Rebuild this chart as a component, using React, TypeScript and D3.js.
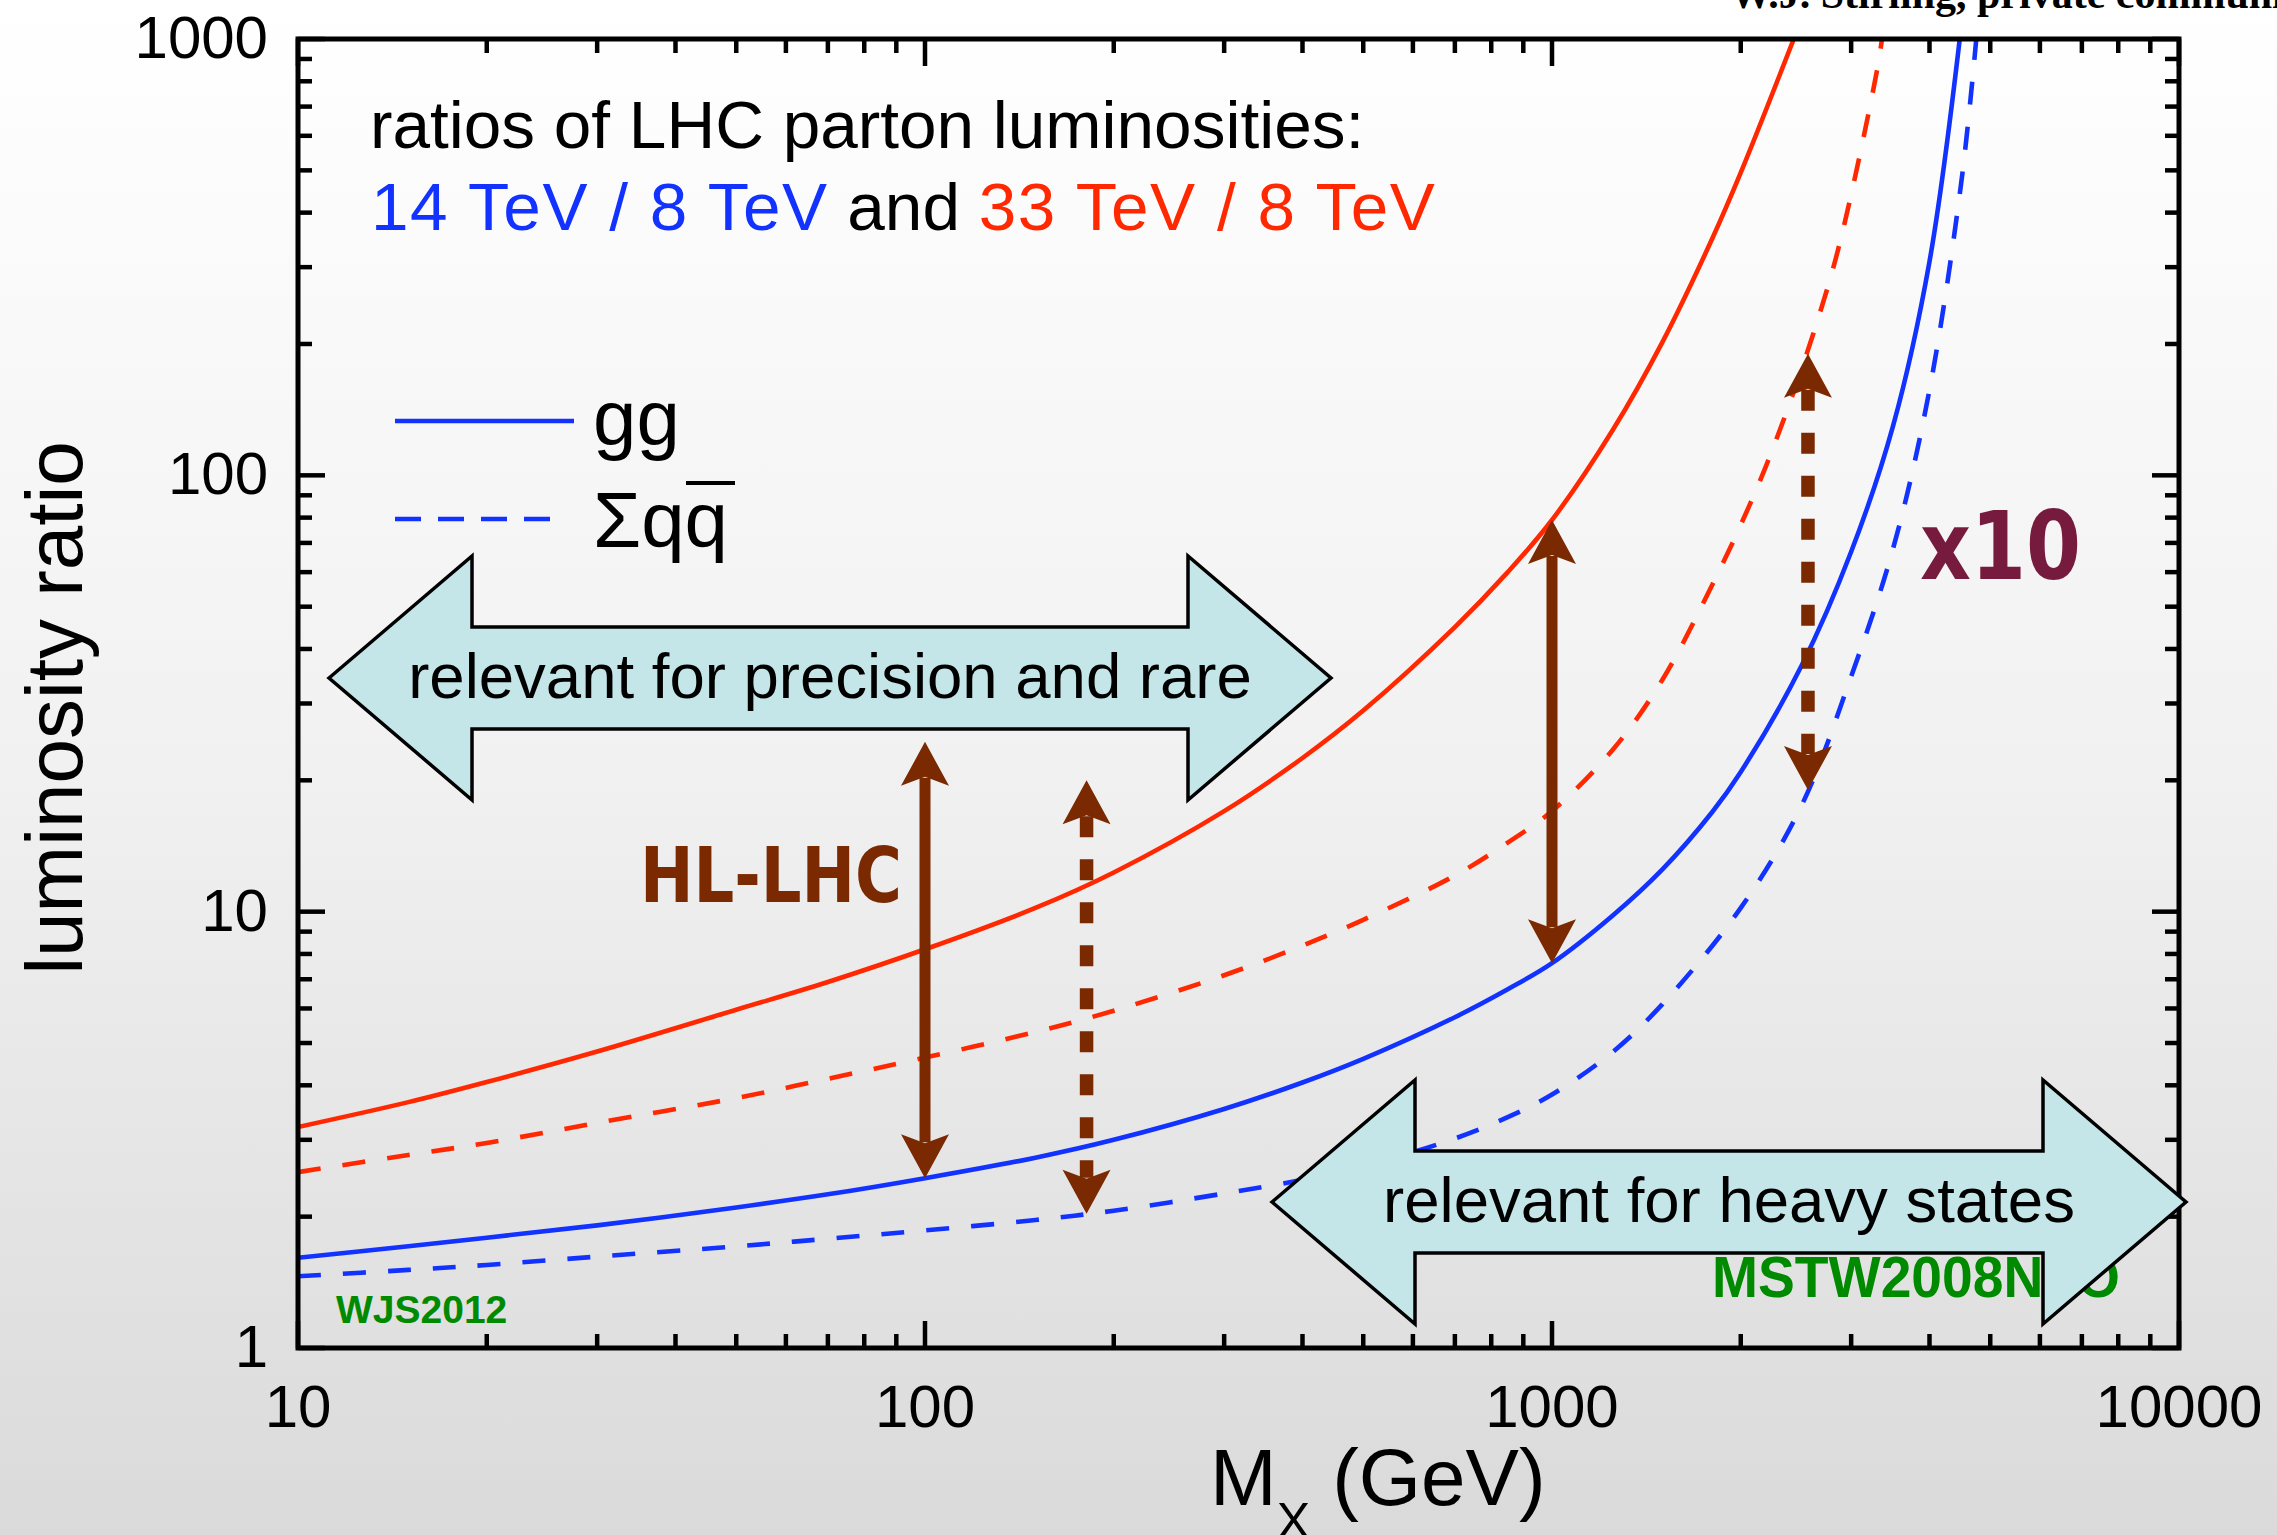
import React from 'react';
import * as d3 from 'd3';

const W = 2277;
const H = 1535;

// Parton luminosity ratios vs. invariant mass M_X (GeV), MSTW2008NLO.
// gg, 33 TeV / 8 TeV
const massGg33 = [10, 15, 20, 30, 50, 70, 100, 150, 200, 300, 400, 500, 700, 850, 1000, 1250, 1500, 1800, 2000, 2430];
const ratioGg33 = [3.21, 3.66, 4.07, 4.78, 5.96, 6.9, 8.2, 10.2, 12.3, 17.0, 22.5, 28.9, 44.9, 60, 79, 127, 202, 348, 494, 1000];
// sum q qbar, 33 TeV / 8 TeV
const massQq33 = [10, 15, 20, 30, 50, 70, 100, 150, 200, 300, 400, 500, 700, 850, 1000, 1250, 1500, 1800, 2000, 2200, 2500, 2800, 3000, 3300, 3360];
const ratioQq33 = [2.53, 2.77, 2.95, 3.28, 3.74, 4.14, 4.63, 5.3, 5.93, 7.15, 8.36, 9.58, 12.1, 14.4, 17.0, 23.5, 34, 56, 77, 106, 175, 294, 440, 850, 1000];
// gg, 14 TeV / 8 TeV
const massGg14 = [10, 15, 20, 30, 50, 70, 100, 150, 200, 300, 400, 500, 700, 850, 1000, 1250, 1500, 1800, 2000, 2500, 3000, 3500, 4000, 4470];
const ratioGg14 = [1.61, 1.71, 1.79, 1.91, 2.1, 2.25, 2.45, 2.73, 3.0, 3.53, 4.06, 4.6, 5.73, 6.64, 7.62, 9.8, 12.5, 16.9, 20.9, 36.6, 66.8, 130, 309, 1000];
// sum q qbar, 14 TeV / 8 TeV
const massQq14 = [10, 15, 20, 30, 50, 70, 100, 150, 200, 300, 400, 500, 700, 850, 1000, 1250, 1500, 2000, 2500, 3000, 3500, 4000, 4500, 4750];
const ratioQq14 = [1.46, 1.51, 1.55, 1.62, 1.71, 1.78, 1.86, 1.965, 2.064, 2.26, 2.43, 2.61, 3.02, 3.38, 3.81, 4.77, 6.14, 10.2, 17.5, 34.6, 68, 157, 475, 1000];

// Gain arrows: mass, lower ratio, upper ratio, dotted?
const gainMass = [100, 181, 1000, 2560];
const gainLow = [2.45, 2.03, 7.62, 19];
const gainHigh = [24.5, 20, 79, 190];
const gainDotted = [false, true, false, true];

const xTickLabels = ['10', '100', '1000', '10000'];
const yTickLabels = ['1', '10', '100', '1000'];

const BLUE = '#1232ff';
const RED = '#ff2800';
const BROWN = '#7a2900';
const GREEN = '#008a00';
const MAROON = '#761a3e';
const CYAN = '#c4e6e9';
const SANS = '"Liberation Sans", Arial, Helvetica, sans-serif';
const COMIC = '"Comic Sans MS", "DejaVu Sans", sans-serif';

const margin = { left: 298, right: 2179, top: 39, bottom: 1348 };

function BigArrow({ x1, x2, cy, label }: { x1: number; x2: number; cy: number; label: string }) {
  const headLen = 143;
  const headHalf = 122;
  const bodyHalf = 51;
  const pts = [
    [x1, cy],
    [x1 + headLen, cy - headHalf],
    [x1 + headLen, cy - bodyHalf],
    [x2 - headLen, cy - bodyHalf],
    [x2 - headLen, cy - headHalf],
    [x2, cy],
    [x2 - headLen, cy + headHalf],
    [x2 - headLen, cy + bodyHalf],
    [x1 + headLen, cy + bodyHalf],
    [x1 + headLen, cy + headHalf],
  ];
  return (
    <g>
      <polygon points={pts.map((p) => p.join(',')).join(' ')} fill={CYAN} stroke="#000" strokeWidth={3.5} strokeLinejoin="miter" />
      <text x={(x1 + x2) / 2} y={cy + 20} textAnchor="middle" fontFamily={SANS} fontSize={63.5} fill="#000">
        {label}
      </text>
    </g>
  );
}

function Head({ x, tip, dir }: { x: number; tip: number; dir: number }) {
  const len = 44;
  const half = 24;
  const notch = 35;
  const pts = [
    [x, tip],
    [x - half, tip + dir * len],
    [x, tip + dir * notch],
    [x + half, tip + dir * len],
  ];
  return <polygon points={pts.map((p) => p.join(',')).join(' ')} fill={BROWN} />;
}

export default function App() {
  const x = d3.scaleLog().domain([10, 10000]).range([margin.left, margin.right]);
  const y = d3.scaleLog().domain([1, 1000]).range([margin.bottom, margin.top]);

  const line = d3
    .line<[number, number]>()
    .x((d) => x(d[0]))
    .y((d) => y(d[1]))
    .curve(d3.curveCatmullRom.alpha(0.5));

  const series = [
    { m: massGg33, r: ratioGg33, color: RED, dash: undefined },
    { m: massQq33, r: ratioQq33, color: RED, dash: '23 22' },
    { m: massGg14, r: ratioGg14, color: BLUE, dash: undefined },
    { m: massQq14, r: ratioQq14, color: BLUE, dash: '23 22' },
  ];

  const xTicks = x.ticks();
  const yTicks = y.ticks();
  const isMajor = (v: number) => Math.abs(Math.log10(v) - Math.round(Math.log10(v))) < 1e-9;
  const majorLen = 27;
  const minorLen = 14;

  return (
    <svg width={W} height={H} viewBox={`0 0 ${W} ${H}`} style={{ position: 'absolute', left: 0, top: 0, display: 'block' }}>
      <defs>
        <linearGradient id="bg" x1="0" y1="0" x2="0" y2="1">
          <stop offset="0" stopColor="#ffffff" />
          <stop offset="0.5" stopColor="#f1f1f1" />
          <stop offset="1" stopColor="#dadada" />
        </linearGradient>
        <clipPath id="plot">
          <rect x={margin.left} y={margin.top} width={margin.right - margin.left} height={margin.bottom - margin.top} />
        </clipPath>
      </defs>
      <rect x={0} y={0} width={W} height={H} fill="url(#bg)" />

      {/* credit line, partly above the page edge */}
      <text x={1730} y={8} fontFamily='"Liberation Serif", "Times New Roman", serif' fontWeight="bold" fontSize={42} fill="#000">
        W.J. Stirling, private communication
      </text>

      {/* curves */}
      <g clipPath="url(#plot)">
        {series.map((s, i) => (
          <path
            key={i}
            d={line(s.m.map((m, j) => [m, s.r[j]] as [number, number])) || ''}
            fill="none"
            stroke={s.color}
            strokeWidth={4.6}
            strokeDasharray={s.dash}
            strokeLinecap="butt"
          />
        ))}
      </g>

      {/* green labels */}
      <text x={336} y={1323} fontFamily={SANS} fontWeight="bold" fontSize={39} fill={GREEN}>
        WJS2012
      </text>
      <text x={1712} y={1297} fontFamily={SANS} fontWeight="bold" fontSize={57} fill={GREEN} textLength={408} lengthAdjust="spacingAndGlyphs">
        MSTW2008NLO
      </text>

      {/* axis frame and ticks */}
      <g stroke="#000" strokeWidth={4.5} strokeLinecap="butt">
        {xTicks.map((t, i) => {
          const len = isMajor(t) ? majorLen : minorLen;
          const px = x(t);
          return (
            <g key={'x' + i}>
              <line x1={px} x2={px} y1={margin.bottom} y2={margin.bottom - len} />
              <line x1={px} x2={px} y1={margin.top} y2={margin.top + len} />
            </g>
          );
        })}
        {yTicks.map((t, i) => {
          const len = isMajor(t) ? majorLen : minorLen;
          const py = y(t);
          return (
            <g key={'y' + i}>
              <line x1={margin.left} x2={margin.left + len} y1={py} y2={py} />
              <line x1={margin.right} x2={margin.right - len} y1={py} y2={py} />
            </g>
          );
        })}
      </g>
      <rect
        x={margin.left}
        y={margin.top}
        width={margin.right - margin.left}
        height={margin.bottom - margin.top}
        fill="none"
        stroke="#000"
        strokeWidth={5}
      />

      {/* region arrows */}
      <BigArrow x1={329} x2={1331} cy={678} label="relevant for precision and rare" />
      <BigArrow x1={1272} x2={2186} cy={1202} label="relevant for heavy states" />

      {/* gain arrows */}
      {gainMass.map((m, i) => {
        const px = x(m);
        const top = y(gainHigh[i]);
        const bot = y(gainLow[i]);
        return (
          <g key={'g' + i}>
            <line
              x1={px}
              x2={px}
              y1={top + 36}
              y2={bot - 36}
              stroke={BROWN}
              strokeWidth={gainDotted[i] ? 13.5 : 11}
              strokeDasharray={gainDotted[i] ? '21 22' : undefined}
            />
            <Head x={px} tip={top} dir={1} />
            <Head x={px} tip={bot} dir={-1} />
          </g>
        );
      })}

      <text x={640} y={902} fontFamily={COMIC} fontWeight="bold" fontSize={76} fill={BROWN} textLength={262} lengthAdjust="spacingAndGlyphs">
        HL-LHC
      </text>
      <text x={1920} y={579} fontFamily={COMIC} fontWeight="bold" fontSize={94} fill={MAROON} textLength={161} lengthAdjust="spacingAndGlyphs">
        x10
      </text>

      {/* title */}
      <text x={370} y={148} fontFamily={SANS} fontSize={67.5} fill="#000">
        ratios of LHC parton luminosities:
      </text>
      <text x={371} y={230} fontFamily={SANS} fontSize={67.5}>
        <tspan fill={BLUE} letterSpacing={1.5}>14 TeV / 8 TeV</tspan>
        <tspan fill="#000"> and </tspan>
        <tspan fill={RED} letterSpacing={1.5}>33 TeV / 8 TeV</tspan>
      </text>

      {/* legend */}
      <line x1={395} x2={574} y1={421} y2={421} stroke={BLUE} strokeWidth={4.6} />
      <text x={593} y={445} fontFamily={SANS} fontSize={78} fill="#000">
        gg
      </text>
      <line x1={395} x2={560} y1={519} y2={519} stroke={BLUE} strokeWidth={4.6} strokeDasharray="26 17" />
      <text x={593} y={547} fontFamily={SANS} fontSize={78} fill="#000">
        Σqq
      </text>
      <line x1={686} x2={735} y1={483} y2={483} stroke="#000" strokeWidth={4} />

      {/* tick labels */}
      {xTickLabels.map((lab, i) => (
        <text key={'xl' + i} x={x(Math.pow(10, i + 1))} y={1427} textAnchor="middle" fontFamily={SANS} fontSize={60} fill="#000">
          {lab}
        </text>
      ))}
      {yTickLabels.map((lab, i) => (
        <text key={'yl' + i} x={268} y={y(Math.pow(10, i)) + 19} textAnchor="end" fontFamily={SANS} fontSize={60} fill="#000">
          {lab}
        </text>
      ))}

      {/* axis titles */}
      <text x={1210} y={1505} fontFamily={SANS} fontSize={80} fill="#000">
        M
        <tspan fontSize={50} dy={33}>
          X
        </tspan>
        <tspan dy={-33}> (GeV)</tspan>
      </text>
      <text transform="translate(82,708) rotate(-90)" textAnchor="middle" fontFamily={SANS} fontSize={80} fill="#000">
        luminosity ratio
      </text>
    </svg>
  );
}
